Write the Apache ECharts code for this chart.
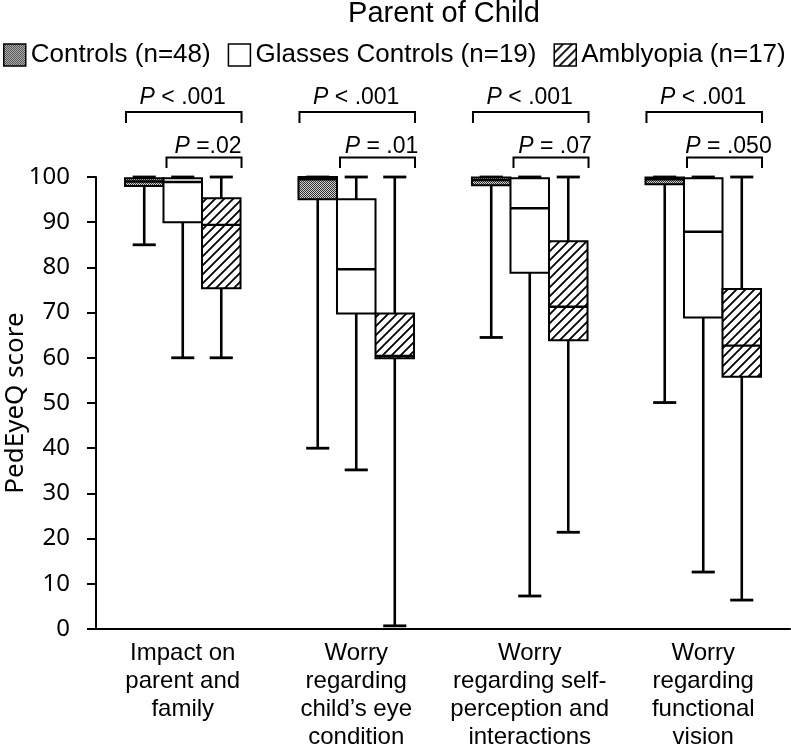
<!DOCTYPE html>
<html><head><meta charset="utf-8">
<script src="https://cdn.jsdelivr.net/npm/echarts@6/dist/echarts.min.js"></script>
<style>html,body{margin:0;padding:0;background:#fff}#c{width:791px;height:750px}</style>
</head><body><div id="c"></div>
<script>
// ---------- data ----------
const categories = [
  'Impact on\nparent and\nfamily',
  'Worry\nregarding\nchild\u2019s eye\ncondition',
  'Worry\nregarding self-\nperception and\ninteractions',
  'Worry\nregarding\nfunctional\nvision'
];
const seriesNames = ['Controls (n=48)', 'Glasses Controls (n=19)', 'Amblyopia (n=17)'];
// each entry: [min, Q1, median, Q3, max]
const controls = [
  [85, 98, 99, 99.7, 100],
  [40, 95.1, 99.5, 100, 100],
  [64.5, 98.2, 99.3, 99.9, 100],
  [50.1, 98.4, 99.5, 99.9, 100]
];
const glassesControls = [
  [60, 90, 98.9, 99.7, 100],
  [35.2, 69.8, 79.6, 95.1, 100],
  [7.3, 78.8, 93.1, 99.7, 100],
  [12.6, 68.9, 87.9, 99.7, 100]
];
const amblyopia = [
  [60, 75.4, 89.4, 95.3, 100],
  [0.7, 59.9, 60.4, 69.8, 100],
  [21.4, 63.9, 71.3, 85.8, 100],
  [6.4, 55.8, 62.7, 75.2, 100]
];
const pAllGroups = ['P < .001', 'P < .001', 'P < .001', 'P < .001'];
const pGlassesVsAmblyopia = ['P =.02', 'P = .01', 'P = .07', 'P = .050'];
const yMin = 0, yMax = 100, yInterval = 10;

// ---------- patterns ----------
function makeChecker() {
  const c = document.createElement('canvas'); c.width = 2; c.height = 2;
  const g = c.getContext('2d');
  g.fillStyle = '#d0d0d0'; g.fillRect(0, 0, 2, 2);
  g.fillStyle = '#333'; g.fillRect(0, 0, 1, 1); g.fillRect(1, 1, 1, 1);
  return c;
}
function makeHatch() {
  const s = 9;
  const c = document.createElement('canvas'); c.width = s; c.height = s;
  const g = c.getContext('2d');
  g.fillStyle = '#fff'; g.fillRect(0, 0, s, s);
  g.strokeStyle = '#000'; g.lineWidth = 1.8; g.lineCap = 'square';
  g.beginPath();
  g.moveTo(0, s); g.lineTo(s, 0);
  g.moveTo(-s, s); g.lineTo(s, -s);
  g.moveTo(0, 2 * s); g.lineTo(2 * s, 0);
  g.stroke();
  return c;
}
const fills = [
  { image: makeChecker(), repeat: 'repeat' },
  '#ffffff',
  { image: makeHatch(), repeat: 'repeat' }
];

const FONT = 'Liberation Sans, Arial, Helvetica, sans-serif';
const BOX_FRAC = 0.222;

function boxRender(slot) {
  return function (params, api) {
    const cat = api.value(0);
    const mn = api.value(1), q1 = api.value(2), md = api.value(3), q3 = api.value(4), mx = api.value(5);
    const band = api.size([1, 0])[0];
    const bw = band * BOX_FRAC;
    const cx = api.coord([cat, 0])[0] + (slot - 1) * bw;
    const y = v => api.coord([cat, v])[1];
    const capW = bw * 0.6;
    const ln = (x1, y1, x2, y2, w) => ({ type: 'line', shape: { x1, y1, x2, y2 }, style: { stroke: '#000', lineWidth: w } });
    return {
      type: 'group',
      children: [
        ln(cx, y(mx), cx, y(q3), 2.6),
        ln(cx, y(q1), cx, y(mn), 2.6),
        ln(cx - capW / 2, y(mx), cx + capW / 2, y(mx), 2.8),
        ln(cx - capW / 2, y(mn), cx + capW / 2, y(mn), 2.8),
        { type: 'rect', shape: { x: cx - bw / 2, y: y(q3), width: bw, height: y(q1) - y(q3) },
          style: { fill: fills[slot], stroke: '#000', lineWidth: 2 } },
        ln(cx - bw / 2, y(md), cx + bw / 2, y(md), 2.4)
      ]
    };
  };
}

function pText(str, x, yy) {
  return {
    type: 'text', x: x, y: yy,
    style: {
      text: '{i|' + str.charAt(0) + '}' + str.slice(1),
      fill: '#000', fontSize: 23, fontFamily: FONT,
      align: 'center', verticalAlign: 'middle',
      rich: { i: { fontStyle: 'italic', fontSize: 23, fontFamily: FONT, fill: '#000' } }
    }
  };
}

function bracketRender(params, api) {
  const cat = api.value(0);
  const band = api.size([1, 0])[0];
  const bw = band * BOX_FRAC;
  const c = api.coord([cat, 0])[0];
  const top = api.coord([cat, yMax])[1];
  const br = (x1, x2, yl, yleg) => ({
    type: 'polyline',
    shape: { points: [[x1, yleg], [x1, yl], [x2, yl], [x2, yleg]] },
    style: { stroke: '#000', lineWidth: 2, fill: null }
  });
  return {
    type: 'group',
    children: [
      br(c - 1.5 * bw + 1, c + 1.5 * bw + 1, top - 65, top - 54),
      pText(pAllGroups[cat], c, top - 79),
      br(c - 0.5 * bw + 3, c + 1.5 * bw + 1, top - 19.5, top - 9),
      pText(pGlassesVsAmblyopia[cat], c + 0.5 * bw + 6, top - 30)
    ]
  };
}

const groups = [controls, glassesControls, amblyopia];
const series = groups.map((arr, s) => ({
  type: 'custom',
  name: seriesNames[s],
  renderItem: boxRender(s),
  clip: false,
  itemStyle: { color: fills[s], borderColor: '#000', borderWidth: 1.5 },
  encode: { x: 0, y: [1, 2, 3, 4, 5] },
  data: arr.map((d, i) => [i].concat(d))
}));
series.push({
  type: 'custom',
  name: 'pvalues',
  renderItem: bracketRender,
  clip: false,
  silent: true,
  encode: { x: 0, y: 1 },
  data: categories.map((c, i) => [i, yMax])
});

const chart = echarts.init(document.getElementById('c'), null, { renderer: 'canvas' });
chart.setOption({
  animation: false,
  backgroundColor: '#fff',
  title: {
    text: 'Parent of Child', left: 444, top: -1, padding: 0, textAlign: 'center',
    textStyle: { fontSize: 29, fontWeight: 'normal', color: '#000', fontFamily: FONT, lineHeight: 29 }
  },
  legend: {
    data: seriesNames, left: 3, top: 42, padding: 0, itemGap: 17,
    itemWidth: 22, itemHeight: 22, icon: 'rect', selectedMode: false,
    itemStyle: { borderColor: '#000', borderWidth: 1.5 },
    textStyle: { fontSize: 26, color: '#000', fontFamily: FONT }
  },
  grid: { left: 96, right: 1, top: 177, bottom: 121, containLabel: false, outerBoundsMode: 'none' },
  xAxis: {
    type: 'category', data: categories, boundaryGap: true,
    axisLine: { show: true, lineStyle: { color: '#000', width: 2 } },
    axisTick: { show: false },
    axisLabel: { interval: 0, fontSize: 24, lineHeight: 28, margin: 10, color: '#000', fontFamily: FONT }
  },
  yAxis: {
    type: 'value', min: yMin, max: yMax, interval: yInterval,
    name: 'PedEyeQ score', nameLocation: 'middle', nameGap: 67, nameMoveOverlap: false,
    nameTextStyle: { fontSize: 26, color: '#000', fontFamily: 'Noto Sans, sans-serif' },
    axisLine: { show: true, lineStyle: { color: '#000', width: 2 } },
    axisTick: { show: true, length: 9, lineStyle: { color: '#000', width: 2 } },
    axisLabel: { fontSize: 24, color: '#000', margin: 26, fontFamily: 'Noto Sans, sans-serif' },
    splitLine: { show: false }
  },
  series: series
});
</script></body></html>
